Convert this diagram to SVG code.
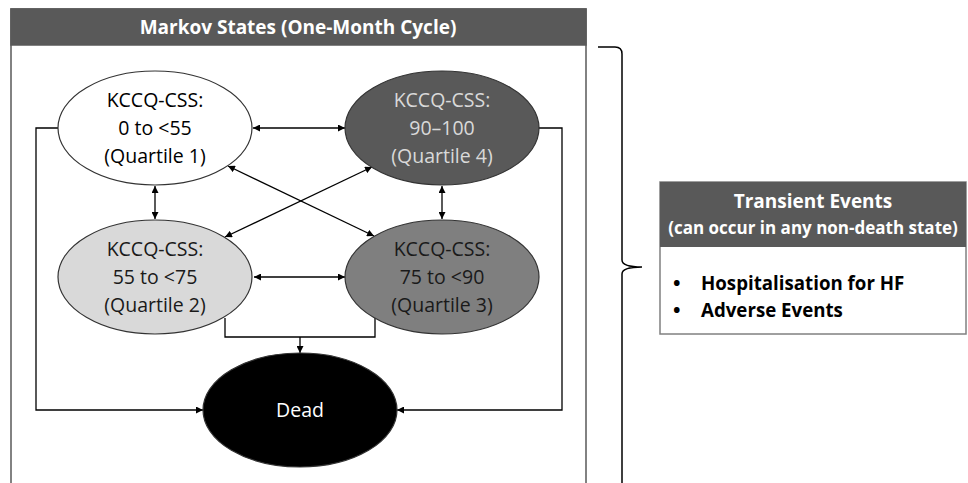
<svg xmlns="http://www.w3.org/2000/svg" width="968" height="483" viewBox="0 0 968 483">
<defs>
<marker id="ah" viewBox="0 0 10 10" refX="10" refY="5" markerWidth="7" markerHeight="7" markerUnits="userSpaceOnUse" orient="auto-start-reverse"><path d="M0,0 L10,5 L0,10 z" fill="#000"/></marker>
<style>
.t{font-family:"Open Sans","Liberation Sans",sans-serif;text-anchor:middle}
.st{font-size:19.5px}
.hd{font-size:19px;font-weight:bold;fill:#fff}
.ln{fill:none;stroke:#000;stroke-width:1.3}
.bi{marker-start:url(#ah);marker-end:url(#ah)}
.one{marker-end:url(#ah)}
.el{stroke:#333;stroke-width:1.2}
.bl{font-family:"Open Sans","Liberation Sans",sans-serif;fill:#000}
</style>
</defs>
<rect width="968" height="483" fill="#fff"/>
<g id="markov-box">
<rect x="11" y="9" width="575" height="490" fill="#fff" stroke="#595959" stroke-width="1.5"/>
<rect x="11" y="9" width="575" height="36" fill="#595959" stroke="#595959" stroke-width="1.5"/>
<text class="t hd" x="298" y="34">Markov States (One-Month Cycle)</text>
</g>
<g id="connectors">
<line class="ln bi" x1="253" y1="128" x2="345" y2="128"/>
<line class="ln bi" x1="254" y1="277" x2="345" y2="277"/>
<line class="ln bi" x1="155" y1="186" x2="155" y2="219"/>
<line class="ln bi" x1="442" y1="186" x2="442" y2="219"/>
<line class="ln bi" x1="228" y1="166" x2="374" y2="236"/>
<line class="ln bi" x1="372" y1="167" x2="225" y2="237"/>
<polyline class="ln one" points="58,128 36,128 36,410 203,410"/>
<polyline class="ln one" points="539,128 562,128 562,410 397,410"/>
<polyline class="ln" points="225,318 225,337 375,337 375,318"/>
<line class="ln one" x1="300" y1="337" x2="300" y2="353"/>
</g>
<g id="q1">
<ellipse class="el" cx="155" cy="128" rx="97" ry="57" fill="#fff"/>
<text class="t st" x="155" y="107" fill="#000">KCCQ-CSS:</text>
<text class="t st" x="155" y="135" fill="#000">0 to &lt;55</text>
<text class="t st" x="155" y="163" fill="#000">(Quartile 1)</text>
</g>
<g id="q4">
<ellipse class="el" cx="442" cy="128" rx="97" ry="57" fill="#595959"/>
<text class="t st" x="442" y="107" fill="#d9d9d9">KCCQ-CSS:</text>
<text class="t st" x="442" y="135" fill="#d9d9d9">90–100</text>
<text class="t st" x="442" y="163" fill="#d9d9d9">(Quartile 4)</text>
</g>
<g id="q2">
<ellipse class="el" cx="155" cy="277" rx="97" ry="57" fill="#d9d9d9"/>
<text class="t st" x="155" y="256" fill="#1a1a1a">KCCQ-CSS:</text>
<text class="t st" x="155" y="284" fill="#1a1a1a">55 to &lt;75</text>
<text class="t st" x="155" y="312" fill="#1a1a1a">(Quartile 2)</text>
</g>
<g id="q3">
<ellipse class="el" cx="442" cy="277" rx="97" ry="57" fill="#7f7f7f"/>
<text class="t st" x="442" y="256" fill="#1a1a1a">KCCQ-CSS:</text>
<text class="t st" x="442" y="284" fill="#1a1a1a">75 to &lt;90</text>
<text class="t st" x="442" y="312" fill="#1a1a1a">(Quartile 3)</text>
</g>
<g id="dead">
<ellipse class="el" cx="300" cy="410" rx="97" ry="57" fill="#000"/>
<text class="t st" x="300" y="417" fill="#fff">Dead</text>
</g>
<g id="brace">
<path d="M598,47 L615,47 Q622,47 622,54 L622,260 Q622,267 642,267 Q622,267 622,274 L622,490" fill="none" stroke="#000" stroke-width="1.5"/>
</g>
<g id="transient">
<rect x="660" y="182" width="306" height="152" fill="#fff" stroke="#808080" stroke-width="1.5"/>
<rect x="660" y="182" width="306" height="65" fill="#595959"/>
<text class="t hd" x="813" y="208">Transient Events</text>
<text class="t" x="813" y="234" font-size="17" font-weight="bold" fill="#fff">(can occur in any non-death state)</text>
<text class="bl" x="673" y="290" font-size="20" font-weight="bold">•</text>
<text class="bl" x="701" y="290" font-size="18.7" font-weight="bold">Hospitalisation for HF</text>
<text class="bl" x="673" y="317" font-size="20" font-weight="bold">•</text>
<text class="bl" x="701" y="317" font-size="18.7" font-weight="bold">Adverse Events</text>
</g>
</svg>
